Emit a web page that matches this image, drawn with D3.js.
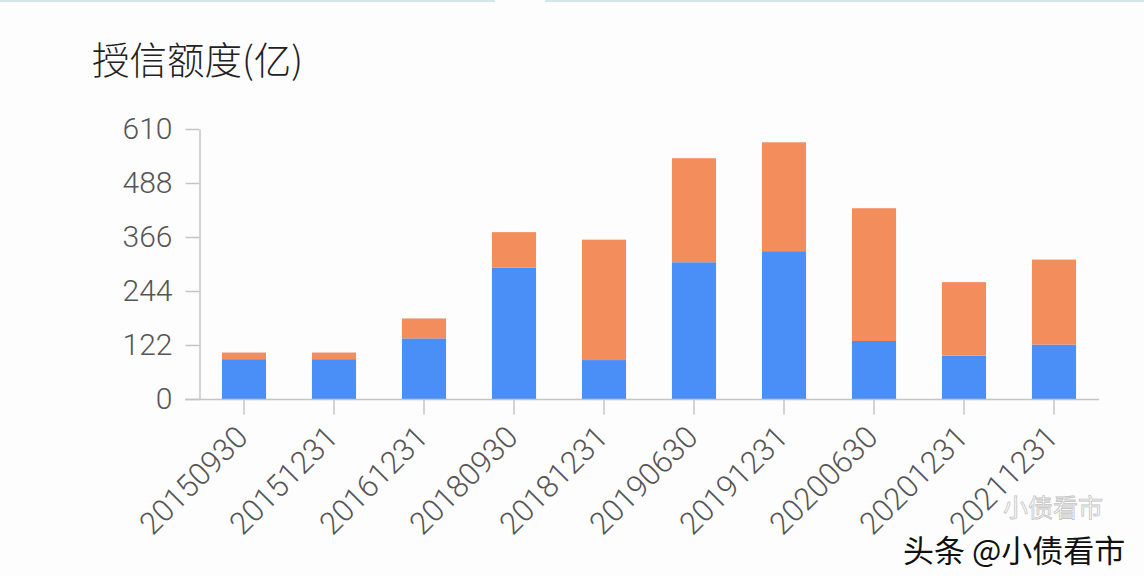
<!DOCTYPE html>
<html>
<head>
<meta charset="utf-8">
<script src="https://cdn.jsdelivr.net/npm/d3@7/dist/d3.min.js"></script>
<style>
  html, body { margin: 0; padding: 0; background: #fdfdfd; }
  svg { display: block; }
</style>
</head>
<body>
<svg id="chart" width="1144" height="576"></svg>
<script>
// ---- data ----
const categories = ['20150930','20151231','20161231','20180930','20181231','20190630','20191231','20200630','20201231','20211231'];
const blueValues   = [90, 90, 137, 297, 88, 309, 334, 131, 98, 123];
const orangeValues = [15, 15, 45, 80, 272, 235, 246, 300, 166, 192];
const yTickValues  = [0, 122, 244, 366, 488, 610];
const seriesKeys   = ['blue', 'orange'];
const seriesColors = ['#4a8ff8', '#f48d5c'];
const titleText = '授信额度(亿)';
const watermarkText = '头条 @小债看市';

// ---- build table ----
const rows = categories.map((c, i) => ({ cat: c, blue: blueValues[i], orange: orangeValues[i] }));
const stacked = d3.stack().keys(seriesKeys)(rows);

const svg = d3.select('#chart');
const plotLeft = 199, plotRight = 1099, plotTop = 129, plotBottom = 399;

// top decorative line
svg.append('rect').attr('x', 0).attr('y', 0).attr('width', 495).attr('height', 2).attr('fill', '#d3e6ea');
svg.append('rect').attr('x', 545).attr('y', 0).attr('width', 599).attr('height', 2).attr('fill', '#d3e6ea');

const x = d3.scaleBand().domain(categories).range([plotLeft, plotRight]).paddingInner(0.51).paddingOuter(0.255);
const y = d3.scaleLinear().domain([0, 610]).range([plotBottom, plotTop]);

// title
svg.append('text')
  .attr('x', 92).attr('y', 74)
  .attr('font-family', '"Noto Sans CJK SC", "Noto Sans", sans-serif')
  .attr('font-size', 37.5)
  .attr('font-weight', 300)
  .attr('fill', '#222')
  .text(titleText);

// bars
const color = d3.scaleOrdinal().domain(seriesKeys).range(seriesColors);
svg.append('g').selectAll('g')
  .data(stacked).join('g')
  .attr('fill', d => color(d.key))
  .selectAll('rect')
  .data(d => d).join('rect')
  .attr('x', d => x(d.data.cat))
  .attr('y', d => y(d[1]))
  .attr('width', x.bandwidth())
  .attr('height', d => y(d[0]) - y(d[1]));

const labelFont = 'Roboto, "Open Sans", sans-serif';

// y axis
const yAxis = svg.append('g')
  .attr('transform', `translate(${plotLeft + 0.5},0)`)
  .call(d3.axisLeft(y).tickValues(yTickValues).tickSize(14).tickSizeOuter(0).tickPadding(13));
yAxis.select('.domain').attr('stroke', '#c4c4c4').attr('stroke-width', 1.5);
yAxis.selectAll('.tick line').attr('stroke', '#c4c4c4').attr('stroke-width', 1.5);
yAxis.selectAll('.tick text')
  .attr('font-family', labelFont).attr('font-size', 30).attr('font-weight', 300)
  .attr('fill', '#555');

// x axis
const xAxis = svg.append('g')
  .attr('transform', `translate(0,${plotBottom + 0.5})`)
  .call(d3.axisBottom(x).tickSize(15).tickSizeOuter(0).tickPadding(0));
xAxis.select('.domain').attr('stroke', '#c4c4c4').attr('stroke-width', 1.5)
  .attr('d', `M${plotLeft - 14},0H${plotRight}`);
xAxis.selectAll('.tick line').attr('stroke', '#c4c4c4').attr('stroke-width', 1.5);
xAxis.selectAll('.tick text')
  .attr('font-family', labelFont).attr('font-size', 31).attr('font-weight', 300)
  .attr('fill', '#555')
  .attr('text-anchor', 'end')
  .attr('y', 0).attr('dy', '0.35em')
  .attr('transform', 'translate(-2,32) rotate(-45)');

// watermark
svg.append('text')
  .attr('x', 1003).attr('y', 517)
  .attr('font-family', '"Noto Sans CJK SC", sans-serif')
  .attr('font-size', 25)
  .attr('fill', 'none')
  .attr('stroke', '#c4c4c4').attr('stroke-width', 0.8)
  .text('小债看市');
svg.append('text')
  .attr('x', 903).attr('y', 562)
  .attr('font-family', '"Noto Sans CJK SC", sans-serif')
  .attr('font-size', 31)
  .attr('fill', '#111')
  .attr('stroke', '#fff').attr('stroke-width', 1)
  .attr('paint-order', 'stroke')
  .text(watermarkText);
</script>
</body>
</html>
